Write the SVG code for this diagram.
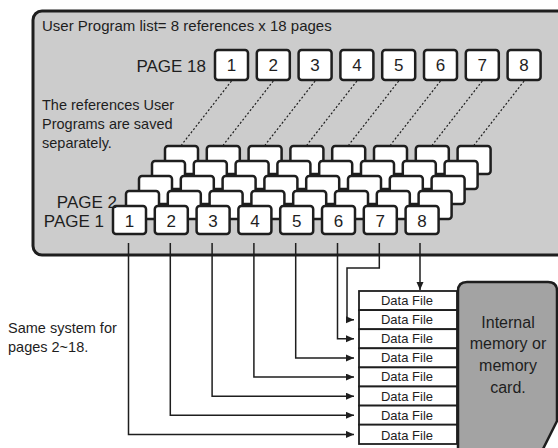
<svg xmlns="http://www.w3.org/2000/svg" width="558" height="448" viewBox="0 0 558 448">
<defs>
<style>
.t{font-family:"Liberation Sans",Arial,sans-serif;fill:#1e1e1e}
.bx{fill:#fff;stroke:#1e1e1e;stroke-width:2.5}
.dot{stroke:#1e1e1e;stroke-width:1.2;stroke-dasharray:2 2;fill:none}
.ln{stroke:#1e1e1e;stroke-width:1.5;fill:none}
.df{fill:#fff;stroke:#1e1e1e;stroke-width:1.8}
</style>
<marker id="ar" markerUnits="userSpaceOnUse" markerWidth="9" markerHeight="8" refX="8" refY="3.5" orient="auto">
<path d="M0,0 L8,3.5 L0,7 z" fill="#1e1e1e"/>
</marker>
</defs>
<rect id="panel" x="33" y="11" width="545" height="244" rx="9" fill="#cccccc" stroke="#1e1e1e" stroke-width="3"/>
<text class="t" x="42" y="31" font-size="15">User Program list= 8 references x 18 pages</text>
<g id="page18">
<text class="t" x="206" y="72" font-size="17" text-anchor="end">PAGE 18</text>
<g id="p18-1"><rect class="bx" x="215" y="50" width="33" height="30" rx="3"/><text class="t" x="231.5" y="71" font-size="17" text-anchor="middle">1</text></g>
<g id="p18-2"><rect class="bx" x="256.8" y="50" width="33" height="30" rx="3"/><text class="t" x="273.3" y="71" font-size="17" text-anchor="middle">2</text></g>
<g id="p18-3"><rect class="bx" x="298.6" y="50" width="33" height="30" rx="3"/><text class="t" x="315.1" y="71" font-size="17" text-anchor="middle">3</text></g>
<g id="p18-4"><rect class="bx" x="340.4" y="50" width="33" height="30" rx="3"/><text class="t" x="356.9" y="71" font-size="17" text-anchor="middle">4</text></g>
<g id="p18-5"><rect class="bx" x="382.2" y="50" width="33" height="30" rx="3"/><text class="t" x="398.7" y="71" font-size="17" text-anchor="middle">5</text></g>
<g id="p18-6"><rect class="bx" x="424" y="50" width="33" height="30" rx="3"/><text class="t" x="440.5" y="71" font-size="17" text-anchor="middle">6</text></g>
<g id="p18-7"><rect class="bx" x="465.8" y="50" width="33" height="30" rx="3"/><text class="t" x="482.3" y="71" font-size="17" text-anchor="middle">7</text></g>
<g id="p18-8"><rect class="bx" x="507.6" y="50" width="33" height="30" rx="3"/><text class="t" x="524.1" y="71" font-size="17" text-anchor="middle">8</text></g>
</g>
<g id="dotted">
<path class="dot" d="M231.5,81 L181.5,145"/>
<path class="dot" d="M273.3,81 L223.3,145"/>
<path class="dot" d="M315.1,81 L265.1,145"/>
<path class="dot" d="M356.9,81 L306.9,145"/>
<path class="dot" d="M398.7,81 L348.7,145"/>
<path class="dot" d="M440.5,81 L390.5,145"/>
<path class="dot" d="M482.3,81 L432.3,145"/>
<path class="dot" d="M524.1,81 L474.1,145"/>
</g>
<text class="t" font-size="14.5"><tspan x="42" y="110">The references User</tspan><tspan x="42" y="129">Programs are saved</tspan><tspan x="42" y="148">separately.</tspan></text>
<g id="layer5">
<rect class="bx" x="165" y="146" width="33" height="28" rx="3"/><rect class="bx" x="206.8" y="146" width="33" height="28" rx="3"/><rect class="bx" x="248.6" y="146" width="33" height="28" rx="3"/><rect class="bx" x="290.4" y="146" width="33" height="28" rx="3"/><rect class="bx" x="332.2" y="146" width="33" height="28" rx="3"/><rect class="bx" x="374" y="146" width="33" height="28" rx="3"/><rect class="bx" x="415.8" y="146" width="33" height="28" rx="3"/><rect class="bx" x="457.6" y="146" width="33" height="28" rx="3"/>
</g>
<g id="layer4">
<rect class="bx" x="152" y="161" width="33" height="28" rx="3"/><rect class="bx" x="193.8" y="161" width="33" height="28" rx="3"/><rect class="bx" x="235.6" y="161" width="33" height="28" rx="3"/><rect class="bx" x="277.4" y="161" width="33" height="28" rx="3"/><rect class="bx" x="319.2" y="161" width="33" height="28" rx="3"/><rect class="bx" x="361" y="161" width="33" height="28" rx="3"/><rect class="bx" x="402.8" y="161" width="33" height="28" rx="3"/><rect class="bx" x="444.6" y="161" width="33" height="28" rx="3"/>
</g>
<g id="layer3">
<rect class="bx" x="139" y="176" width="33" height="28" rx="3"/><rect class="bx" x="180.8" y="176" width="33" height="28" rx="3"/><rect class="bx" x="222.6" y="176" width="33" height="28" rx="3"/><rect class="bx" x="264.4" y="176" width="33" height="28" rx="3"/><rect class="bx" x="306.2" y="176" width="33" height="28" rx="3"/><rect class="bx" x="348" y="176" width="33" height="28" rx="3"/><rect class="bx" x="389.8" y="176" width="33" height="28" rx="3"/><rect class="bx" x="431.6" y="176" width="33" height="28" rx="3"/>
</g>
<g id="page2">
<rect class="bx" x="126" y="191" width="33" height="28" rx="3"/><rect class="bx" x="167.8" y="191" width="33" height="28" rx="3"/><rect class="bx" x="209.6" y="191" width="33" height="28" rx="3"/><rect class="bx" x="251.4" y="191" width="33" height="28" rx="3"/><rect class="bx" x="293.2" y="191" width="33" height="28" rx="3"/><rect class="bx" x="335" y="191" width="33" height="28" rx="3"/><rect class="bx" x="376.8" y="191" width="33" height="28" rx="3"/><rect class="bx" x="418.6" y="191" width="33" height="28" rx="3"/>
</g>
<g id="page1">
<g id="p1-1"><rect class="bx" x="113" y="206" width="33" height="28" rx="3"/><text class="t" x="129.5" y="227" font-size="17" text-anchor="middle">1</text></g>
<g id="p1-2"><rect class="bx" x="154.8" y="206" width="33" height="28" rx="3"/><text class="t" x="171.3" y="227" font-size="17" text-anchor="middle">2</text></g>
<g id="p1-3"><rect class="bx" x="196.6" y="206" width="33" height="28" rx="3"/><text class="t" x="213.1" y="227" font-size="17" text-anchor="middle">3</text></g>
<g id="p1-4"><rect class="bx" x="238.4" y="206" width="33" height="28" rx="3"/><text class="t" x="254.9" y="227" font-size="17" text-anchor="middle">4</text></g>
<g id="p1-5"><rect class="bx" x="280.2" y="206" width="33" height="28" rx="3"/><text class="t" x="296.7" y="227" font-size="17" text-anchor="middle">5</text></g>
<g id="p1-6"><rect class="bx" x="322" y="206" width="33" height="28" rx="3"/><text class="t" x="338.5" y="227" font-size="17" text-anchor="middle">6</text></g>
<g id="p1-7"><rect class="bx" x="363.8" y="206" width="33" height="28" rx="3"/><text class="t" x="380.3" y="227" font-size="17" text-anchor="middle">7</text></g>
<g id="p1-8"><rect class="bx" x="405.6" y="206" width="33" height="28" rx="3"/><text class="t" x="422.1" y="227" font-size="17" text-anchor="middle">8</text></g>
</g>
<text class="t" x="117" y="208" font-size="17" text-anchor="end">PAGE 2</text>
<text class="t" x="104" y="227" font-size="17" text-anchor="end">PAGE 1</text>
<g id="connectors">
<path class="ln" d="M128.5,243 V434.4 H354" marker-end="url(#ar)"/>
<path class="ln" d="M170.3,243 V415.3 H354" marker-end="url(#ar)"/>
<path class="ln" d="M212.1,243 V396.2 H354" marker-end="url(#ar)"/>
<path class="ln" d="M253.9,243 V377.1 H354" marker-end="url(#ar)"/>
<path class="ln" d="M295.7,243 V357.9 H354" marker-end="url(#ar)"/>
<path class="ln" d="M337.5,243 V338.8 H354" marker-end="url(#ar)"/>
<path class="ln" d="M379.3,243 V268 H347 V319.7 H354" marker-end="url(#ar)"/>
<path class="ln" d="M420,243 V290" marker-end="url(#ar)"/>
</g>
<g id="datafiles">
<g id="df1"><rect class="df" x="359" y="291" width="98" height="19.1"/><text class="t" x="407" y="305" font-size="13" text-anchor="middle">Data File</text></g>
<g id="df2"><rect class="df" x="359" y="310.1" width="98" height="19.1"/><text class="t" x="407" y="324.1" font-size="13" text-anchor="middle">Data File</text></g>
<g id="df3"><rect class="df" x="359" y="329.2" width="98" height="19.1"/><text class="t" x="407" y="343.2" font-size="13" text-anchor="middle">Data File</text></g>
<g id="df4"><rect class="df" x="359" y="348.3" width="98" height="19.1"/><text class="t" x="407" y="362.3" font-size="13" text-anchor="middle">Data File</text></g>
<g id="df5"><rect class="df" x="359" y="367.4" width="98" height="19.1"/><text class="t" x="407" y="381.4" font-size="13" text-anchor="middle">Data File</text></g>
<g id="df6"><rect class="df" x="359" y="386.5" width="98" height="19.1"/><text class="t" x="407" y="400.5" font-size="13" text-anchor="middle">Data File</text></g>
<g id="df7"><rect class="df" x="359" y="405.6" width="98" height="19.1"/><text class="t" x="407" y="419.6" font-size="13" text-anchor="middle">Data File</text></g>
<g id="df8"><rect class="df" x="359" y="424.7" width="98" height="19.3"/><text class="t" x="407" y="439.5" font-size="13" text-anchor="middle">Data File</text></g>
</g>
<g id="card">
<path d="M458,452 L458,291 Q458,282 467,282 L548,282 Q557,282 557,291 L557,421 L541,453" fill="#a3a3a3" stroke="#1e1e1e" stroke-width="2.5"/>
<text class="t" font-size="16" text-anchor="middle"><tspan x="508" y="328">Internal</tspan><tspan x="508" y="349">memory or</tspan><tspan x="508" y="371">memory</tspan><tspan x="508" y="393">card.</tspan></text>
</g>
<text class="t" font-size="14.5"><tspan x="8" y="333">Same system for</tspan><tspan x="8" y="352">pages 2~18.</tspan></text>
</svg>
